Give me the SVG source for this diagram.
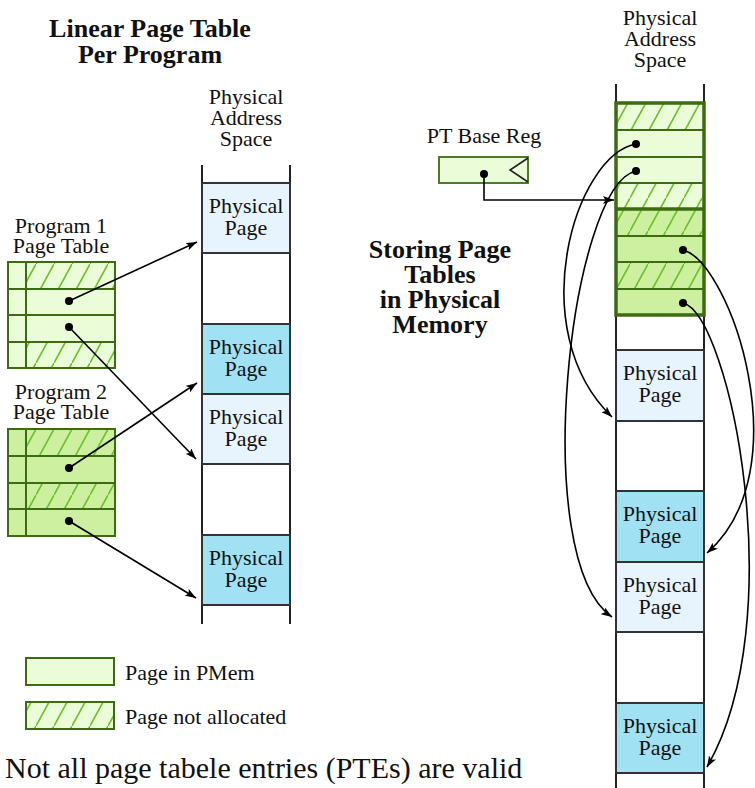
<svg xmlns="http://www.w3.org/2000/svg" width="755" height="788" viewBox="0 0 755 788">
<style>
text{font-family:"Liberation Serif","Times New Roman",serif;fill:#111;}
.t{font-size:22px;}
.c{text-anchor:middle;}
.b{font-size:26px;font-weight:bold;text-anchor:middle;}
.lg{fill:#eafcd8;}
.dg{fill:#ccf0a0;}
.gs{stroke:#3d6b12;stroke-width:2;fill:none;}
.gt{stroke:#3d6b12;stroke-width:3.5;fill:none;}
.h{fill:url(#hatch);}
.pp{fill:#e7f4fd;stroke:#333;stroke-width:2;}
.pc{fill:#a0e2f3;stroke:#333;stroke-width:2;}
.col{stroke:#222;stroke-width:2;fill:none;}
.con{stroke:#000;stroke-width:1.6;fill:none;marker-end:url(#ah);}
.dot{fill:#000;}
</style>
<defs>
<pattern id="hatch" patternUnits="userSpaceOnUse" width="18" height="33">
<path d="M-2,36.67 L20,-3.67" stroke="#6cc02b" stroke-width="1.6"/>
</pattern>
<marker id="ah" markerUnits="userSpaceOnUse" markerWidth="12" markerHeight="8" refX="11" refY="4" orient="auto">
<path d="M0,0 L11,4 L0,8 L2.5,4 z" fill="#000"/>
</marker>
</defs>

<g id="title-left">
<text class="b" x="150" y="37">Linear Page Table</text>
<text class="b" x="150" y="63">Per Program</text>
</g>

<g id="header-left">
<text class="t c" x="246" y="104">Physical</text>
<text class="t c" x="246" y="125">Address</text>
<text class="t c" x="246" y="146">Space</text>
</g>

<g id="pas-left">
<line class="col" x1="202" y1="165" x2="202" y2="624"/>
<line class="col" x1="290" y1="165" x2="290" y2="624"/>
</g>
<g id="lp1"><rect class="pp" x="202" y="183" width="88" height="70"/><text class="t c" x="246" y="213">Physical</text><text class="t c" x="246" y="235">Page</text></g>
<g id="lp2"><rect class="pc" x="202" y="324" width="88" height="70"/><text class="t c" x="246" y="354">Physical</text><text class="t c" x="246" y="376">Page</text></g>
<g id="lp3"><rect class="pp" x="202" y="394" width="88" height="70"/><text class="t c" x="246" y="424">Physical</text><text class="t c" x="246" y="446">Page</text></g>
<g id="lp4"><rect class="pc" x="202" y="535" width="88" height="70"/><text class="t c" x="246" y="565">Physical</text><text class="t c" x="246" y="587">Page</text></g>

<g id="pt1">
<text class="t c" x="61" y="233">Program 1</text>
<text class="t c" x="61" y="253">Page Table</text>
<rect class="lg" x="8" y="262" width="107" height="106"/>
<rect class="h" x="26" y="262" width="89" height="27"/>
<rect class="h" x="26" y="342" width="89" height="26"/>
<rect class="gs" x="8" y="262" width="107" height="106"/>
<path class="gs" d="M8,289 H115 M8,315 H115 M8,342 H115 M26,262 V368"/>
<circle class="dot" cx="69" cy="301" r="4"/>
<circle class="dot" cx="69" cy="327" r="4"/>
</g>

<g id="pt2">
<text class="t c" x="61" y="399">Program 2</text>
<text class="t c" x="61" y="419">Page Table</text>
<rect class="dg" x="8" y="429" width="107" height="107"/>
<rect class="h" x="26" y="429" width="89" height="27"/>
<rect class="h" x="26" y="483" width="89" height="26"/>
<rect class="gs" x="8" y="429" width="107" height="107"/>
<path class="gs" d="M8,456 H115 M8,483 H115 M8,509 H115 M26,429 V536"/>
<circle class="dot" cx="69" cy="468" r="4"/>
<circle class="dot" cx="69" cy="521" r="4"/>
</g>

<g id="legend">
<rect class="lg" x="26" y="658" width="88" height="27"/>
<rect class="gs" x="26" y="658" width="88" height="27"/>
<text class="t" x="125" y="680">Page in PMem</text>
<rect class="lg" x="26" y="702" width="88" height="27"/>
<rect class="h" x="26" y="702" width="88" height="27"/>
<rect class="gs" x="26" y="702" width="88" height="27"/>
<text class="t" x="125" y="724">Page not allocated</text>
</g>

<g id="note">
<text x="5" y="778" style="font-size:30px">Not all page tabele entries (PTEs) are valid</text>
</g>

<g id="title-right">
<text class="b" x="440" y="258">Storing Page</text>
<text class="b" x="440" y="283">Tables</text>
<text class="b" x="440" y="308">in Physical</text>
<text class="b" x="440" y="333">Memory</text>
</g>

<g id="header-right">
<text class="t c" x="660" y="25">Physical</text>
<text class="t c" x="660" y="46">Address</text>
<text class="t c" x="660" y="67">Space</text>
</g>

<g id="ptbase">
<text class="t c" x="484" y="143">PT Base Reg</text>
<rect class="lg" x="439" y="157" width="89" height="26"/>
<rect class="gs" x="439" y="157" width="89" height="26" style="stroke-width:1.8"/>
<path d="M528,158 L510,170 L528,182" fill="none" stroke="#222" stroke-width="1.6"/>
<circle class="dot" cx="484" cy="174" r="4"/>
</g>

<g id="pas-right">
<line class="col" x1="616" y1="84" x2="616" y2="788"/>
<line class="col" x1="704" y1="84" x2="704" y2="788"/>
</g>

<g id="pt-in-mem">
<rect class="lg" x="616" y="103" width="88" height="106"/>
<rect class="dg" x="616" y="209" width="88" height="106"/>
<rect class="h" x="616" y="103" width="88" height="27"/>
<rect class="h" x="616" y="183" width="88" height="26"/>
<rect class="h" x="616" y="209" width="88" height="27"/>
<rect class="h" x="616" y="262" width="88" height="27"/>
<path class="gs" d="M616,130 H704 M616,157 H704 M616,183 H704 M616,236 H704 M616,262 H704 M616,289 H704"/>
<rect class="gt" x="616" y="103" width="88" height="212"/>
<path class="gt" d="M616,209 H704"/>
<circle class="dot" cx="636" cy="144" r="4"/>
<circle class="dot" cx="636" cy="171" r="4"/>
<circle class="dot" cx="683" cy="250" r="4"/>
<circle class="dot" cx="683" cy="303" r="4"/>
</g>

<g id="rp1"><rect class="pp" x="616" y="350" width="88" height="71"/><text class="t c" x="660" y="380">Physical</text><text class="t c" x="660" y="402">Page</text></g>
<g id="rp2"><rect class="pc" x="616" y="491" width="88" height="71"/><text class="t c" x="660" y="521">Physical</text><text class="t c" x="660" y="543">Page</text></g>
<g id="rp3"><rect class="pp" x="616" y="562" width="88" height="70"/><text class="t c" x="660" y="592">Physical</text><text class="t c" x="660" y="614">Page</text></g>
<g id="rp4"><rect class="pc" x="616" y="703" width="88" height="70"/><text class="t c" x="660" y="733">Physical</text><text class="t c" x="660" y="755">Page</text></g>

<g id="connectors">
<path class="con" d="M69,301 L197,242"/>
<path class="con" d="M69,327 L196,459"/>
<path class="con" d="M69,468 L197,383"/>
<path class="con" d="M69,521 L196,598"/>
<path class="con" d="M484,174 V200 H614"/>
<path class="con" d="M636,144 C575,155 522,330 612,417"/>
<path class="con" d="M636,171 C570,185 528,560 612,617"/>
<path class="con" d="M683,250 C730,262 802,470 707,553"/>
<path class="con" d="M683,303 C730,315 792,620 707,767"/>
</g>
</svg>
